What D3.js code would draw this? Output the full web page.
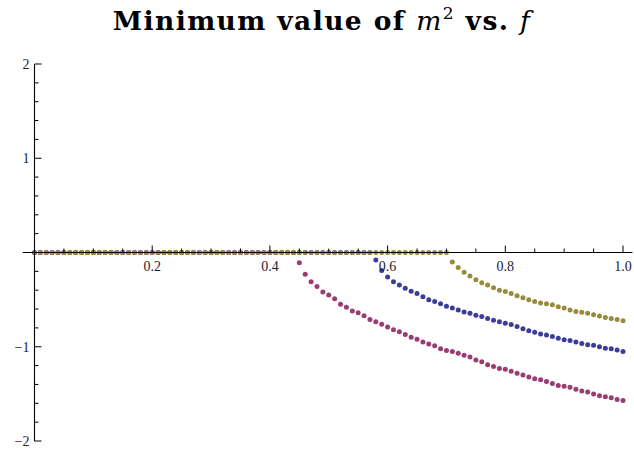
<!DOCTYPE html>
<html>
<head>
<meta charset="utf-8">
<script src="https://cdn.jsdelivr.net/npm/d3@7"></script>
<style>
  html, body { margin: 0; padding: 0; background: #fff; }
  svg { display: block; }
</style>
</head>
<body>
<script>
// Sampling grid in f (step 0.01 from 0 to 1)
const fStep = 0.01;
const fCount = 101;

// Each branch is zero up to its onset, then falls off.
const blueOnset = 0.58;
const blueValues = [
  -0.08, -0.19, -0.26, -0.31, -0.345, -0.38, -0.41, -0.435, -0.47, -0.50,
  -0.52, -0.545, -0.57, -0.59, -0.61, -0.63, -0.645, -0.665, -0.68, -0.70,
  -0.72, -0.735, -0.75, -0.765, -0.785, -0.81, -0.83, -0.845, -0.865, -0.875,
  -0.89, -0.91, -0.925, -0.935, -0.95, -0.965, -0.98, -0.985, -1.00, -1.015,
  -1.02, -1.035, -1.05
];

const magentaOnset = 0.45;
const magentaValues = [
  -0.11, -0.23, -0.31, -0.36, -0.42, -0.45, -0.49, -0.55, -0.58, -0.62,
  -0.64, -0.67, -0.71, -0.735, -0.76, -0.79, -0.82, -0.84, -0.87, -0.90,
  -0.92, -0.95, -0.97, -0.99, -1.02, -1.04, -1.05, -1.07, -1.09, -1.11,
  -1.14, -1.16, -1.19, -1.21, -1.23, -1.24, -1.26, -1.28, -1.30, -1.32,
  -1.34, -1.35, -1.37, -1.39, -1.41, -1.42, -1.43, -1.45, -1.47, -1.48,
  -1.50, -1.52, -1.53, -1.54, -1.56, -1.57
];

const goldOnset = 0.71;
const goldValues = [
  -0.10, -0.16, -0.21, -0.25, -0.29, -0.32, -0.345, -0.375, -0.40, -0.415,
  -0.435, -0.46, -0.48, -0.50, -0.52, -0.535, -0.545, -0.555, -0.575, -0.59,
  -0.61, -0.625, -0.635, -0.645, -0.66, -0.675, -0.69, -0.70, -0.71, -0.725
];

const seriesNames = ["blue", "magenta", "gold"];
const seriesColors = ["#3d3d99", "#993d71", "#998b3d"];

// Axis ticks and labels
const xMajorTicks = [0.2, 0.4, 0.6, 0.8, 1.0];
const xTickLabels = ["0.2", "0.4", "0.6", "0.8", "1.0"];
const yMajorTicks = [2, 1, -1, -2];
const yTickLabels = ["2", "1", "\u22121", "\u22122"];

function buildSeries(onset, values) {
  const startIdx = Math.round(onset / fStep);
  const pts = [];
  for (let i = 0; i < fCount; i++) {
    const f = i * fStep;
    const v = i < startIdx ? 0 : values[i - startIdx];
    if (v !== undefined) pts.push({ f, v });
  }
  return pts;
}

const series = [
  buildSeries(blueOnset, blueValues),
  buildSeries(magentaOnset, magentaValues),
  buildSeries(goldOnset, goldValues)
];

const W = 634, H = 451;
const svg = d3.select("body").append("svg").attr("width", W).attr("height", H);

const x = d3.scaleLinear().domain([0, 1]).range([34.5, 623]);
const y = d3.scaleLinear().domain([-2, 2]).range([441, 64]);

// Title: bold text with math-italic symbols
const title = svg.append("text")
  .attr("x", 322).attr("y", 30)
  .attr("text-anchor", "middle")
  .attr("font-family", "'DejaVu Serif', serif")
  .attr("font-size", 26.5)
  .attr("letter-spacing", 1.4)
  .attr("fill", "#000");
title.append("tspan").attr("font-weight", "bold").text("Minimum value of ");
title.append("tspan").attr("font-style", "italic").text("m");
title.append("tspan").attr("font-size", 17).attr("dy", -11).text("2");
title.append("tspan").attr("dy", 11).attr("font-weight", "bold").text(" vs.  ");
title.append("tspan").attr("font-style", "italic").text("f");

// Points
const dotsG = svg.append("g");
series.forEach((pts, k) => {
  dotsG.append("g").attr("class", seriesNames[k])
    .selectAll("circle").data(pts).join("circle")
    .attr("cx", d => x(d.f))
    .attr("cy", d => y(d.v))
    .attr("r", 2.5)
    .attr("fill", seriesColors[k]);
});

// Axes
const axisG = svg.append("g").attr("stroke", "#000").attr("fill", "none");
const x0 = x(0), y0 = y(0);

// horizontal axis
axisG.append("line")
  .attr("x1", x(-0.02)).attr("x2", x(1.016))
  .attr("y1", y0).attr("y2", y0).attr("stroke-width", 1.1);
const xMinor = d3.range(1, 21).map(i => i * 0.05)
  .filter(v => !xMajorTicks.some(m => Math.abs(m - v) < 1e-9));
axisG.selectAll(".xminor").data(xMinor).join("line")
  .attr("x1", d => x(d)).attr("x2", d => x(d))
  .attr("y1", y0).attr("y2", y0 - 4);
axisG.selectAll(".xmajor").data(xMajorTicks).join("line")
  .attr("x1", d => x(d)).attr("x2", d => x(d))
  .attr("y1", y0).attr("y2", y0 - 7);

// vertical axis
axisG.append("line")
  .attr("x1", x0).attr("x2", x0)
  .attr("y1", y(2)).attr("y2", y(-2)).attr("stroke-width", 1.1);
const yMinor = d3.range(-10, 11).map(i => i * 0.2)
  .filter(v => Math.abs(v - Math.round(v)) > 1e-9);
axisG.selectAll(".yminor").data(yMinor).join("line")
  .attr("x1", x0).attr("x2", x0 + 4)
  .attr("y1", d => y(d)).attr("y2", d => y(d));
axisG.selectAll(".ymajor").data(yMajorTicks).join("line")
  .attr("x1", x0).attr("x2", x0 + 7)
  .attr("y1", d => y(d)).attr("y2", d => y(d));

// Tick labels
const labelFont = "'Liberation Serif', 'Times New Roman', serif";
svg.append("g").selectAll("text").data(xMajorTicks).join("text")
  .attr("x", d => x(d)).attr("y", y0 + 18)
  .attr("text-anchor", "middle")
  .attr("font-family", labelFont).attr("font-size", 14)
  .attr("fill", "#1c1c2c")
  .text((d, i) => xTickLabels[i]);
svg.append("g").selectAll("text").data(yMajorTicks).join("text")
  .attr("x", x0 - 5).attr("y", d => y(d) + 5)
  .attr("text-anchor", "end")
  .attr("font-family", labelFont).attr("font-size", 14)
  .attr("fill", "#1c1c2c")
  .text((d, i) => yTickLabels[i]);
</script>
</body>
</html>
